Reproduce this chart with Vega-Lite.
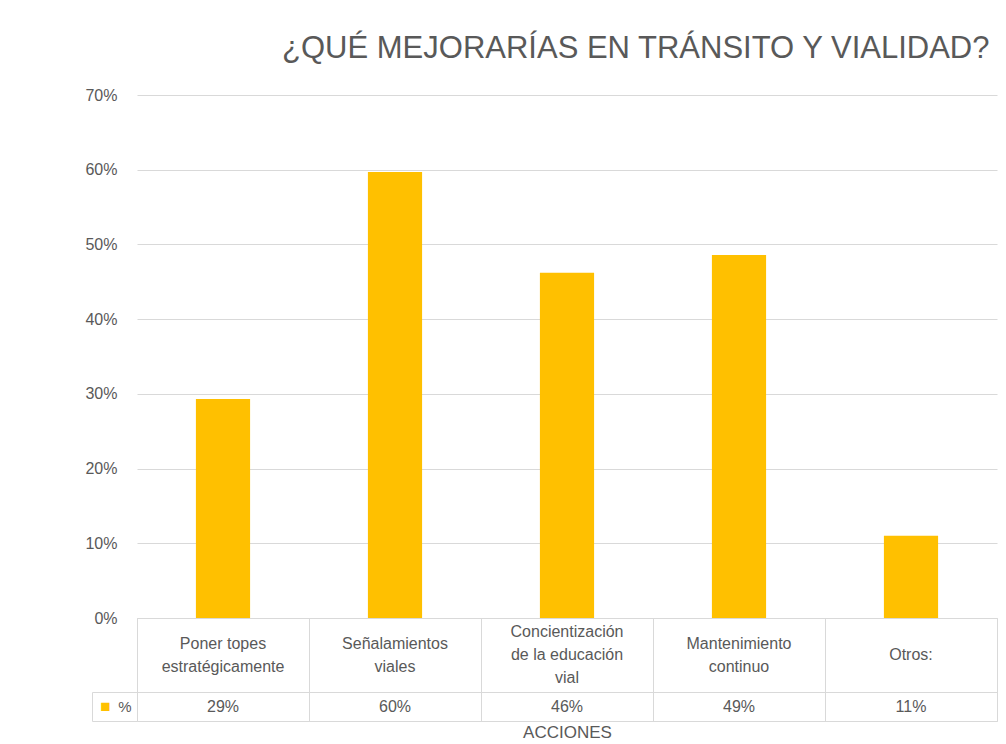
{
  "$schema": "https://vega.github.io/schema/vega-lite/v6.json",
  "background": "white",
  "padding": {"left": 84, "top": 33, "right": 8, "bottom": 0},
  "bounds": "flush",
  "title": {
    "text": "¿QUÉ MEJORARÍAS  EN TRÁNSITO Y VIALIDAD?",
    "anchor": "end",
    "font": "Liberation Sans",
    "fontSize": 31,
    "fontWeight": "normal",
    "color": "#595959",
    "offset": 22,
    "dx": -8
  },
  "datasets": {
    "d": [
      {"accion": "Poner topes estratégicamente", "label": "Poner topes\nestratégicamente", "pct": 0.293, "txt": "29%", "serie": "%", "sw": "■"},
      {"accion": "Señalamientos viales", "label": "Señalamientos\nviales", "pct": 0.597, "txt": "60%", "serie": "%", "sw": "■"},
      {"accion": "Concientización de la educación vial", "label": "Concientización\nde la educación\nvial", "pct": 0.462, "txt": "46%", "serie": "%", "sw": "■"},
      {"accion": "Mantenimiento continuo", "label": "Mantenimiento\ncontinuo", "pct": 0.486, "txt": "49%", "serie": "%", "sw": "■"},
      {"accion": "Otros:", "label": "Otros:", "pct": 0.11, "txt": "11%", "serie": "%", "sw": "■"}
    ]
  },
  "config": {
    "font": "Liberation Sans",
    "view": {"stroke": null},
    "axis": {"labelColor": "#595959", "titleColor": "#595959", "titleFontWeight": "normal"}
  },
  "spacing": 0,
  "vconcat": [
    {
      "width": 860,
      "height": 523,
      "data": {"name": "d"},
      "mark": {"type": "bar", "color": "#FFC000", "width": {"band": 0.315}},
      "encoding": {
        "x": {
          "field": "accion", "type": "nominal", "sort": null,
          "scale": {"paddingInner": 0, "paddingOuter": 0},
          "axis": null
        },
        "y": {
          "field": "pct", "type": "quantitative",
          "scale": {"domain": [0, 0.7], "nice": false},
          "axis": {
            "title": null, "format": ".0%", "values": [0, 0.1, 0.2, 0.3, 0.4, 0.5, 0.6, 0.7],
            "domain": false, "ticks": false, "labelPadding": 20, "labelFontSize": 16,
            "gridColor": "#d9d9d9", "gridWidth": 1.2
          }
        }
      }
    },
    {
      "width": 860,
      "height": 74,
      "view": {"stroke": "#d9d9d9"},
      "data": {"name": "d"},
      "mark": {
        "type": "text", "lineBreak": "\n", "fontSize": 16, "lineHeight": 23, "color": "#595959", "baseline": "middle",
        "dy": {"expr": "-(length(split(datum.label, '\\n')) - 1) * 11.5"}
      },
      "encoding": {
        "x": {
          "field": "accion", "type": "nominal", "sort": null,
          "scale": {"paddingInner": 0, "paddingOuter": 0},
          "axis": {"title": null, "labels": false, "ticks": false, "domain": false, "grid": true, "tickBand": "extent", "gridColor": "#d9d9d9"}
        },
        "text": {"field": "label"}
      }
    },
    {
      "width": 860,
      "height": 29,
      "view": {"stroke": "#d9d9d9"},
      "data": {"name": "d"},
      "layer": [
        {
          "mark": {"type": "text", "fontSize": 16, "color": "#595959"},
          "encoding": {
            "x": {
              "field": "accion", "type": "nominal", "sort": null,
              "scale": {"paddingInner": 0, "paddingOuter": 0},
              "axis": {"title": "ACCIONES", "titleFontSize": 17, "titlePadding": 3, "labels": false, "ticks": false, "domain": false, "grid": true, "tickBand": "extent", "gridColor": "#d9d9d9"}
            },
            "y": {
              "field": "serie", "type": "nominal",
              "scale": {"paddingInner": 0, "paddingOuter": 0},
              "axis": {"title": null, "ticks": true, "tickBand": "extent", "tickSize": 45, "tickColor": "#d9d9d9", "domain": false, "labelFontSize": 15, "labelPadding": -39}
            },
            "text": {"field": "txt"}
          }
        },
        {
          "mark": {"type": "text", "text": "", "fontSize": 14},
          "encoding": {
            "x": {"field": "accion", "type": "nominal", "sort": null},
            "y": {
              "field": "sw", "type": "nominal",
              "scale": {"paddingInner": 0, "paddingOuter": 0},
              "axis": {"orient": "left", "title": null, "ticks": false, "domain": true, "domainColor": "#d9d9d9", "offset": 45, "labelFontSize": 17, "labelColor": "#FFC000", "labelPadding": -18}
            }
          }
        }
      ],
      "resolve": {"scale": {"y": "independent"}, "axis": {"y": "independent"}}
    }
  ]
}
